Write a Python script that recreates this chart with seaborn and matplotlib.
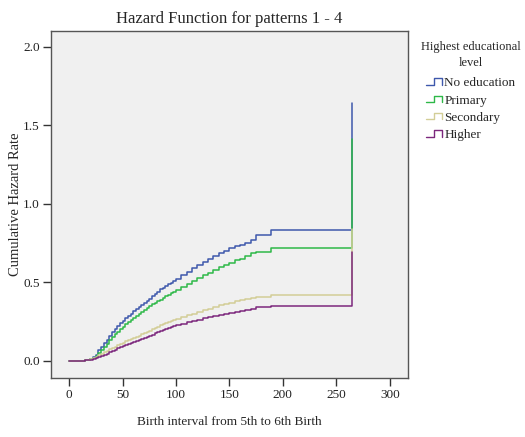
import numpy as np
import pandas as pd
import matplotlib
matplotlib.use("Agg")
import matplotlib.pyplot as plt
import seaborn as sns
from matplotlib.legend_handler import HandlerBase
from matplotlib.lines import Line2D

# time points (months) where the cumulative hazard steps
times = [0, 15, 17.5, 20, 22.5, 25, 27.5, 30, 32.5, 35, 37.5, 40, 42.5, 45,
         47.5, 50, 52.5, 55, 57.5, 60, 62.5, 65, 67.5, 70, 72.5, 75, 77.5, 80,
         82.5, 85, 87.5, 90, 92.5, 95, 97.5, 100, 105, 110, 115, 120, 125, 130,
         135, 140, 145, 150, 155, 160, 165, 170, 175, 189, 265]

no_education = [0, 0.003, 0.006, 0.012, 0.022, 0.038, 0.066, 0.09, 0.11, 0.135,
                0.16, 0.18, 0.20, 0.22, 0.24, 0.255, 0.27, 0.285, 0.30, 0.315,
                0.328, 0.342, 0.355, 0.368, 0.38, 0.395, 0.41, 0.425, 0.44, 0.455,
                0.465, 0.475, 0.487, 0.497, 0.51, 0.52, 0.545, 0.565, 0.59, 0.61,
                0.63, 0.65, 0.67, 0.685, 0.70, 0.715, 0.73, 0.735, 0.75, 0.77,
                0.80, 0.835, 1.64]
primary = [0, 0.003, 0.006, 0.011, 0.02, 0.033, 0.05, 0.068, 0.088, 0.108,
           0.13, 0.15, 0.168, 0.185, 0.203, 0.218, 0.233, 0.248, 0.262, 0.275,
           0.287, 0.30, 0.312, 0.325, 0.337, 0.35, 0.36, 0.37, 0.38, 0.39, 0.40,
           0.41, 0.42, 0.43, 0.44, 0.45, 0.47, 0.49, 0.51, 0.528, 0.545, 0.56,
           0.58, 0.595, 0.61, 0.625, 0.64, 0.65, 0.665, 0.685, 0.69, 0.715, 1.41]
secondary = [0, 0.003, 0.006, 0.01, 0.017, 0.026, 0.035, 0.045, 0.054, 0.063,
             0.072, 0.081, 0.09, 0.099, 0.107, 0.116, 0.124, 0.132, 0.139,
             0.146, 0.153, 0.16, 0.168, 0.176, 0.184, 0.192, 0.20, 0.208, 0.216,
             0.225, 0.232, 0.24, 0.247, 0.254, 0.261, 0.268, 0.28, 0.29, 0.30,
             0.31, 0.32, 0.33, 0.342, 0.352, 0.36, 0.37, 0.378, 0.385, 0.392,
             0.40, 0.405, 0.42, 0.84]
higher = [0, 0.002, 0.004, 0.007, 0.012, 0.018, 0.024, 0.03, 0.038, 0.046,
          0.054, 0.062, 0.07, 0.078, 0.085, 0.093, 0.10, 0.107, 0.113, 0.12,
          0.127, 0.133, 0.14, 0.147, 0.153, 0.16, 0.167, 0.174, 0.182, 0.19,
          0.196, 0.202, 0.208, 0.214, 0.22, 0.226, 0.236, 0.245, 0.254, 0.262,
          0.27, 0.278, 0.286, 0.294, 0.30, 0.306, 0.312, 0.318, 0.325, 0.33,
          0.34, 0.35, 0.69]

levels = ["No education", "Primary", "Secondary", "Higher"]
colors = ["#3E58AC", "#2EB848", "#D3CE97", "#7C287D"]

frames = []
for name, vals in zip(levels, [no_education, primary, secondary, higher]):
    frames.append(pd.DataFrame({"time": times, "hazard": vals, "level": name}))
df = pd.concat(frames, ignore_index=True)

sns.set_theme(style="white")
plt.rcParams["font.family"] = ["Liberation Serif", "DejaVu Serif"]

fig = plt.figure(figsize=(5.25, 4.37), dpi=100)
ax = fig.add_axes([0.097, 0.135, 0.68, 0.794])
ax.set_facecolor("#F0F0F0")

sns.lineplot(data=df, x="time", y="hazard", hue="level", hue_order=levels,
             palette=colors, estimator=None, sort=True, drawstyle="steps-post",
             linewidth=1.1, legend=False, ax=ax)

ax.set_xlim(-17, 317)
ax.set_ylim(-0.11, 2.1)
ax.set_xticks([0, 50, 100, 150, 200, 250, 300])
ax.set_yticks([0.0, 0.5, 1.0, 1.5, 2.0])
ax.set_yticklabels(["0.0", "0.5", "1.0", "1.5", "2.0"])
ax.tick_params(axis="both", direction="out", length=6, width=1, color="#333333",
               labelsize=9.5, labelcolor="#222222", pad=2,
               bottom=True, left=True)
for s in ax.spines.values():
    s.set_color("#555555")
    s.set_linewidth(1)

ax.set_title("Hazard Function for patterns 1 - 4", fontsize=12, pad=6)
ax.set_xlabel("Birth interval from 5th to 6th Birth", fontsize=9.5, labelpad=11)
ax.set_ylabel("Cumulative Hazard Rate", fontsize=10.5, labelpad=1)


class StepHandler(HandlerBase):
    def create_artists(self, legend, orig_handle, xdescent, ydescent, width,
                       height, fontsize, trans):
        x0, x1 = -xdescent, -xdescent + width
        y0 = -ydescent + height * 0.15
        y1 = -ydescent + height * 0.85
        xm = x0 + width * 0.45
        xs = [x0, xm, xm, x1, x1]
        ys = [y0, y0, y1, y1, y0]
        ln = Line2D(xs, ys, color=orig_handle.get_color(), linewidth=1.0,
                    transform=trans)
        return [ln]


handles = [Line2D([], [], color=c) for c in colors]
leg = fig.legend(handles, levels, title="Highest educational\nlevel",
                 loc="upper left", bbox_to_anchor=(0.802, 0.907),
                 frameon=False, fontsize=9.5, title_fontsize=9, borderpad=0,
                 borderaxespad=0, handlelength=1.2, handletextpad=0.15,
                 labelspacing=0.38, handler_map={Line2D: StepHandler()})
leg.get_title().set_multialignment("center")
leg.get_title().set_linespacing(1.45)
leg._legend_box.sep = 6

fig.savefig("out.png", dpi=100)
